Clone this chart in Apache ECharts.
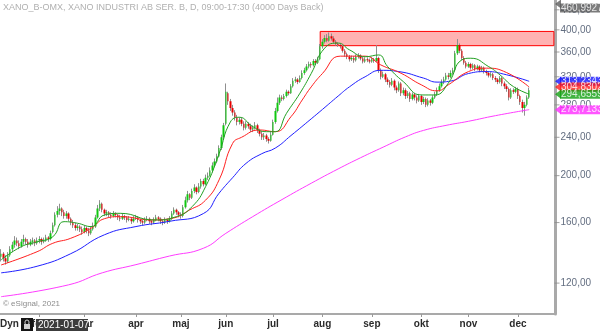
<!DOCTYPE html>
<html><head><meta charset="utf-8">
<script src="https://cdn.jsdelivr.net/npm/echarts@6/dist/echarts.min.js"></script>
<style>html,body{margin:0;padding:0;background:#fff}#c{width:600px;height:331px}</style>
</head><body><div id="c"></div>
<script>
const chartTitle = 'XANO_B-OMX, XANO INDUSTRI AB SER. B, D, 09:00-17:30 (4000 Days Back)';
const monthNames = ['jan','feb','mar','apr','maj','jun','jul','aug','sep','okt','nov','dec'];
const firstDate = '2021-01-07';
const holidays = ['2021-04-02','2021-04-05','2021-05-13','2021-06-25','2021-12-24','2021-12-31'];
const futurePad = 11;
const axisTickValues = [120,160,200,240,280,320,360,400,440];
const yMin = 103.6, yMax = 460.99277;
const zoneLow = 371, zoneHigh = 397, zoneStartIndex = 142;
const tagValues = [460.99277, 313.2343, 304.83028, 294.65597, 273.7133];

// daily candles: [open, close, low, high]
const candles = [
[136,138,133,141],[138,135,133,139],[135,133,131,137],[133,137,132,139],[137,141,136,143],
[141,144,139,146],[144,147,142,150],[147,145,143,149],[145,143,141,147],[143,146,142,148],
[146,148,144,151],[148,146,144,149],[146,144,142,148],[144,146,143,148],[146,147,144,149],
[147,145,143,148],[145,147,144,149],[147,148,145,150],[148,146,144,149],[146,147,145,149],
[147,149,146,151],[149,148,146,150],[148,152,147,154],[153,158,152,160],[158,166,157,168],
[166,169,164,173],[169,171,166,175],[171,168,165,172],[168,165,163,170],[165,167,163,169],
[167,163,161,168],[163,160,158,164],[160,158,156,162],[158,156,154,160],[156,157,154,159],
[157,155,153,158],[155,153,151,157],[153,156,152,158],[156,154,152,157],[154,152,150,156],
[152,155,151,157],[155,157,154,160],[157,164,156,166],[164,171,163,174],[171,175,169,178],
[175,170,168,176],[170,167,165,171],[167,168,165,170],[168,166,164,169],[166,165,163,168],
[165,167,164,169],[167,166,164,168],[166,164,162,167],[164,163,161,166],[163,165,162,167],
[165,164,162,166],[164,162,160,165],[162,163,161,165],[163,161,159,164],[161,163,160,165],
[163,164,162,166],[164,162,160,165],[162,161,159,163],[161,160,158,162],[160,162,159,164],
[162,163,161,165],[163,161,159,164],[161,160,158,162],[160,162,159,164],[162,164,161,166],
[164,163,161,165],[163,161,159,164],[161,160,158,162],[160,162,159,164],[162,161,159,163],
[161,163,160,165],[163,167,162,169],[167,170,166,172],[170,168,166,171],[168,166,164,169],
[166,165,163,168],[165,172,164,174],[172,178,171,181],[178,183,176,186],[183,180,178,184],
[180,186,179,188],[186,189,184,192],[189,185,183,190],[185,190,184,193],[190,195,188,197],
[195,192,190,197],[192,198,191,201],[198,200,196,203],[200,205,199,208],[205,210,203,213],
[210,214,208,217],[214,219,212,222],[219,228,218,231],[228,240,226,243],[240,254,238,257],
[256,298,254,310],[296,285,280,298],[285,276,272,288],[276,270,266,280],[270,264,260,273],
[264,258,254,267],[258,261,255,264],[261,256,253,264],[256,251,248,259],[251,256,249,259],
[256,253,250,258],[253,249,246,256],[249,251,246,254],[251,254,249,258],[254,248,245,256],
[248,244,241,250],[244,240,237,247],[240,242,237,245],[242,238,235,244],[238,236,233,240],
[236,243,235,246],[243,258,242,261],[258,272,256,276],[272,283,270,290],[283,290,280,294],
[290,288,285,293],[288,292,286,295],[292,298,290,301],[298,296,293,300],[296,306,295,309],
[306,314,304,318],[314,316,311,320],[316,312,309,318],[312,318,311,322],[318,326,316,330],
[326,330,323,334],[330,336,328,340],[336,340,333,344],[340,338,334,343],[338,345,336,348],
[345,342,339,348],[342,348,340,352],[348,370,346,374],[370,378,366,383],[378,385,375,390],
[385,380,377,392],[380,388,378,395],[388,384,380,393],[384,378,375,388],[378,374,371,381],
[374,372,369,377],[372,370,366,375],[370,362,359,372],[362,356,352,365],[356,352,348,359],
[352,348,344,355],[348,350,345,354],[350,346,342,353],[346,352,344,356],[352,354,349,358],
[354,349,346,356],[349,344,341,352],[344,348,342,351],[348,346,343,351],[346,344,341,349],
[344,348,342,351],[348,345,342,350],[345,350,343,372],[350,330,326,352],[330,320,316,333],
[320,324,318,328],[324,316,312,326],[316,312,308,319],[312,308,304,315],[308,314,306,318],
[314,304,300,316],[304,300,296,307],[300,310,298,313],[310,296,292,312],[296,300,293,304],
[300,292,288,303],[292,296,289,299],[296,288,284,298],[288,294,286,297],[294,290,286,296],
[290,286,282,293],[286,292,284,295],[292,284,280,294],[284,288,281,291],[288,280,277,290],
[280,286,278,289],[286,283,279,288],[283,290,281,293],[290,294,288,298],[294,300,292,304],
[300,306,298,310],[306,312,304,316],[312,316,309,320],[316,322,314,326],[322,320,316,326],
[320,326,318,330],[326,330,323,334],[330,358,328,362],[358,372,355,383],[372,362,358,375],
[362,350,346,365],[350,342,339,353],[342,336,333,345],[336,340,334,343],[340,334,331,342],
[334,338,332,341],[338,332,329,340],[332,336,330,339],[336,330,327,338],[330,334,328,337],
[334,328,325,336],[328,326,322,331],[326,322,319,328],[322,324,319,327],[324,318,315,326],
[318,316,312,321],[316,312,309,318],[312,318,310,321],[318,310,306,320],[310,306,302,313],
[306,302,298,309],[302,290,286,304],[290,300,288,303],[300,298,295,303],[298,302,296,305],
[302,292,288,304],[292,284,280,294],[284,276,270,287],[276,280,266,284],[280,290,278,293],
[290,300,288,304]
];

// moving averages: [trading-day index, value]
const maShort = [[0,134],[9,142.7],[16,146],[23,149.6],[28,160.7],[34,159.5],[40,157],[46,165.9],[53,167.2],[68,162],[78,164.6],[85,172.6],[91,189.8],[97,222],[102,258],[106,264],[112,252.5],[118,246.5],[122,246.5],[127,269],[133,296],[138,325],[144,366.7],[150,375.6],[155,363.8],[162,352],[168,355],[172,336],[179,312.7],[187,293.5],[193,293.5],[199,310.4],[205,346.7],[209,349.5],[217,335.8],[222,322.9],[228,305.4],[235,294.66]];
const maMid = [[0,130.8],[16,139.3],[23,145],[31,148.5],[40,155.7],[46,163],[53,164.6],[67,162],[76,163.3],[84,170],[91,178],[97,196],[103,233],[107,240],[115,248.5],[122,246.5],[129,264.7],[134,286.6],[138,305],[143,325],[151,353],[162,353],[169,338.5],[178,325.4],[187,308],[194,299.3],[199,308],[208,328],[216,333.4],[225,326.4],[235,304.83]];
const maLong = [[0,126],[16,130],[31,138],[46,151],[60,157],[75,161],[90,167],[97,184],[103,198],[109,212],[116,222],[122,228],[129,242],[138,262],[143,274],[150,292],[155,305],[162,320],[169,330],[177,328],[188,318],[194,312],[200,313.5],[208,325],[216,328],[225,323],[235,313.23]];
const ma200 = [[0,112.5],[30,119],[45,126],[60,131],[75,136.5],[90,141.6],[100,152],[112,164.6],[125,178.5],[138,192.9],[150,206.5],[160,217.8],[170,229],[180,240.5],[188,248],[198,254],[208,259],[220,266],[235,273.71]];

function buildDates(start, count) {
  const out = []; const d = new Date(start + 'T12:00:00Z');
  while (out.length < count) {
    const wd = d.getUTCDay(); const s = d.toISOString().slice(0, 10);
    if (wd !== 0 && wd !== 6 && holidays.indexOf(s) < 0) out.push(s);
    d.setUTCDate(d.getUTCDate() + 1);
  }
  return out;
}
const dates = buildDates(firstDate, candles.length + futurePad);
const isMonthStart = (idx) => idx > 0 && dates[idx].slice(5, 7) !== dates[idx - 1].slice(5, 7);
const toLine = (arr) => arr.map(([i, v]) => [dates[i], v]);
const fmt = (v) => String(v).replace('.', ',');
const FONT = 'Liberation Sans, Arial, sans-serif';
const tagColors = ['#5b5b5b', '#1515ff', '#ff1a1a', '#12a012', '#ff2bff'];

const chart = echarts.init(document.getElementById('c'), null, {renderer: 'canvas'});
chart.setOption({
  animation: false,
  backgroundColor: '#ffffff',
  grid: {left: -4, right: 45, top: 0, bottom: 17, containLabel: false},
  xAxis: [{
    type: 'category', data: dates, boundaryGap: true,
    axisLine: {show: true, lineStyle: {color: '#a9a9a9', width: 2}},
    axisTick: {show: true, interval: (i) => isMonthStart(i), alignWithLabel: true, length: 3, lineStyle: {color: '#999'}},
    axisLabel: {interval: (i) => isMonthStart(i), formatter: (v) => monthNames[+v.slice(5, 7) - 1],
      color: '#2b2b2b', fontSize: 10, fontWeight: 'bold', fontFamily: FONT, margin: 5},
    splitLine: {show: false}
  }, {
    type: 'value', min: 0, max: 1, show: false
  }],
  yAxis: {
    type: 'log', min: yMin, max: yMax, position: 'right', scale: true,
    axisLine: {show: true, onZero: false, lineStyle: {color: '#a9a9a9', width: 3}},
    axisTick: {show: false}, axisLabel: {show: false}, splitLine: {show: false}
  },
  series: [
    {
      type: 'candlestick', name: 'wicks', data: candles, barWidth: 1, z: 2,
      itemStyle: {color: '#8f8f8f', color0: '#8f8f8f', borderColor: '#8f8f8f', borderColor0: '#8f8f8f', borderWidth: 1},
      markArea: {silent: true, itemStyle: {color: 'rgba(255,0,0,0.3)', borderColor: '#ff0000', borderWidth: 1},
        data: [[{xAxis: dates[zoneStartIndex], yAxis: zoneHigh}, {xAxis: dates[dates.length - 1], yAxis: zoneLow}]]}
    },
    {
      type: 'candlestick', name: 'XANO', data: candles, barWidth: 2, z: 2,
      itemStyle: {color: '#10c810', color0: '#e80000', borderColor: 'rgba(0,0,0,0)', borderColor0: 'rgba(0,0,0,0)', borderWidth: 0}
    },
    {type: 'line', data: toLine(ma200), smooth: true, showSymbol: false, lineStyle: {color: '#ff3cff', width: 1}, z: 3},
    {type: 'line', data: toLine(maLong), smooth: true, showSymbol: false, lineStyle: {color: '#2020ff', width: 1}, z: 3},
    {type: 'line', data: toLine(maMid), smooth: true, showSymbol: false, lineStyle: {color: '#ff2020', width: 1}, z: 3},
    {type: 'line', data: toLine(maShort), smooth: true, showSymbol: false, lineStyle: {color: '#22a022', width: 1}, z: 3},
    {
      type: 'scatter', xAxisIndex: 1, clip: false, silent: true, z: 5,
      symbol: 'rect', symbolSize: [5, 1], symbolOffset: [2, 0], itemStyle: {color: '#8a8a8a'},
      data: axisTickValues.map(v => [1, v]),
      label: {show: true, position: 'right', distance: 1, formatter: (p) => p.value[1].toFixed(2).replace('.', ','),
        color: '#3b4860', fontSize: 10, fontFamily: FONT}
    },
    {
      type: 'scatter', xAxisIndex: 1, clip: false, silent: true, z: 10,
      symbol: 'triangle', symbolRotate: 90, symbolSize: [9, 6], symbolOffset: [3, 0],
      data: tagValues.map((v, k) => ({
        value: [1, v], symbolOffset: k === 0 ? [3, 4] : [3, 0],
        itemStyle: {color: tagColors[k]},
        label: {backgroundColor: tagColors[k], offset: k === 0 ? [0, 4] : [0, 0]}
      })),
      label: {show: true, position: 'right', distance: -1, formatter: (p) => fmt(p.value[1]),
        color: '#ffffff', fontSize: 10, fontFamily: FONT, padding: [0, 1, 0, 1], lineHeight: 9}
    }
  ],
  graphic: [
    {type: 'text', left: 3, top: 3, z: 100, style: {text: chartTitle, fill: '#b0b0b0', font: '9px ' + FONT}},
    {type: 'text', left: 3, top: 300, z: 100, style: {text: '© eSignal, 2021', fill: '#8c8c8c', font: '8px ' + FONT}},
    {type: 'text', left: 0, top: 319, z: 100, style: {text: 'Dyn', fill: '#2b2b2b', font: 'bold 10px ' + FONT}},
    {type: 'rect', z: 100, shape: {x: 21, y: 318, width: 12, height: 13}, style: {fill: '#151515'}},
    {type: 'rect', z: 101, shape: {x: 24, y: 324, width: 6, height: 5}, style: {fill: '#d0d0d0'}},
    {type: 'rect', z: 101, shape: {x: 25, y: 320, width: 4, height: 5, r: 2}, style: {fill: 'none', stroke: '#d0d0d0', lineWidth: 1}},
    {type: 'rect', z: 100, shape: {x: 36, y: 319, width: 52, height: 12}, style: {fill: '#3c3c3c'}},
    {type: 'text', left: 38, top: 320, z: 101, style: {text: firstDate, fill: '#ffffff', font: '10px ' + FONT}}
  ]
});
</script></body></html>
